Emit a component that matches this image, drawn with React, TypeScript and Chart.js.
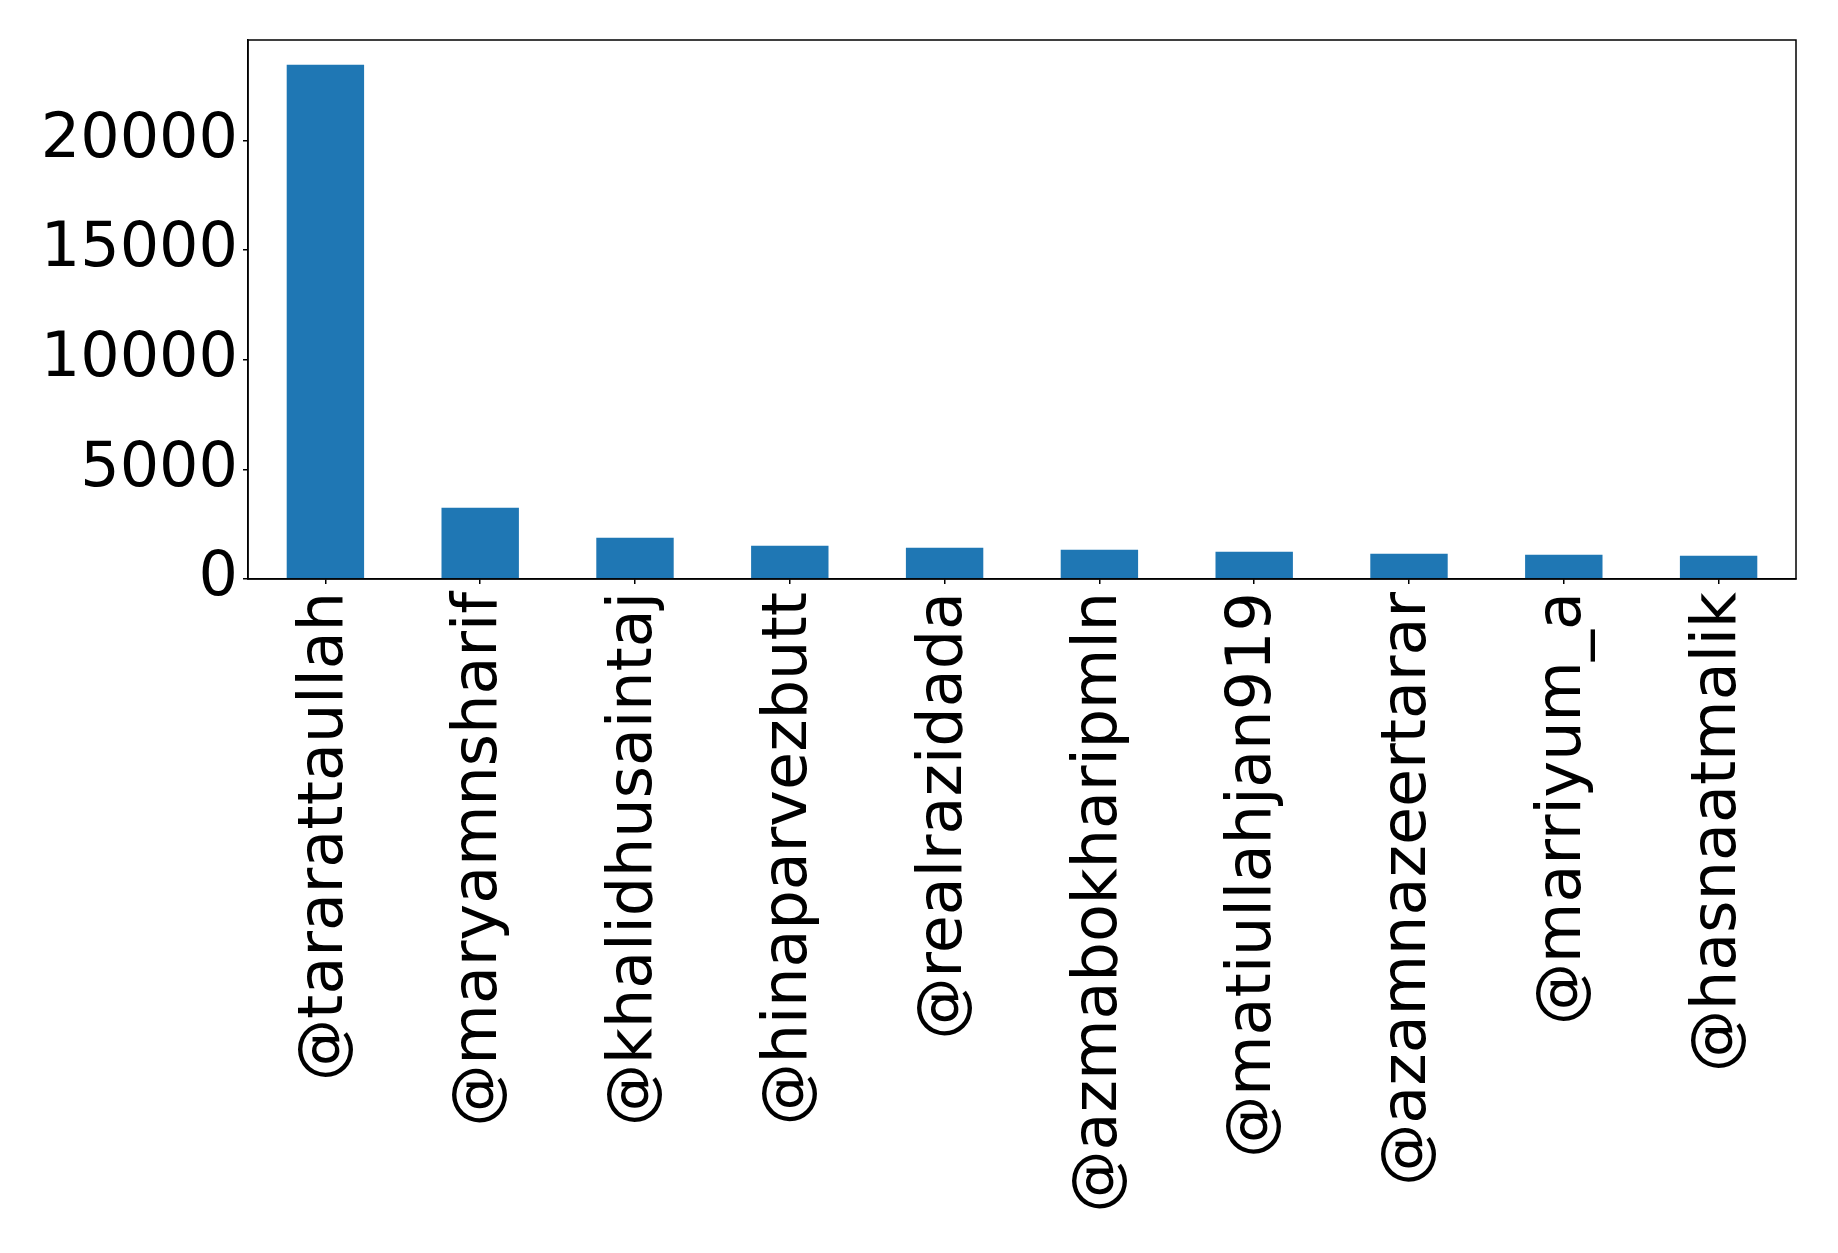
import React, { useEffect, useRef } from "react";
import { Chart, registerables } from "chart.js";

Chart.register(...registerables);

const categories = [
  "@tararattaullah",
  "@maryamnsharif",
  "@khalidhusaintaj",
  "@hinaparvezbutt",
  "@realrazidada",
  "@azmabokharipmln",
  "@matiullahjan919",
  "@azamnazeertarar",
  "@marriyum_a",
  "@hasnaatmalik",
];
const counts = [23460, 3245, 1880, 1515, 1425, 1335, 1245, 1155, 1105, 1060];
const yTicks = [0, 5000, 10000, 15000, 20000];

const W = 1838;
const H = 1253;
const AREA = { left: 248, right: 1796, top: 40, bottom: 579 };
const FONT = { family: "'DejaVu Sans'", size: 62 };

const boxPlugin = {
  id: "box",
  afterDraw(chart: any) {
    const { ctx, chartArea } = chart;
    ctx.save();
    ctx.strokeStyle = "#000";
    ctx.lineWidth = 1.5;
    ctx.strokeRect(chartArea.left, chartArea.top, chartArea.right - chartArea.left, chartArea.bottom - chartArea.top);
    ctx.restore();
  },
};

export default function App() {
  const ref = useRef<HTMLCanvasElement>(null);
  useEffect(() => {
    if (!ref.current) return;
    const chart = new Chart(ref.current, {
      type: "bar",
      data: {
        labels: categories,
        datasets: [
          {
            data: counts,
            backgroundColor: "#1f77b4",
            categoryPercentage: 1,
            barPercentage: 0.5,
          },
        ],
      },
      options: {
        animation: false,
        responsive: false,
        maintainAspectRatio: false,
        layout: { padding: { top: AREA.top, right: W - AREA.right, left: 0, bottom: 0 } },
        plugins: { legend: { display: false }, tooltip: { enabled: false } },
        scales: {
          x: {
            offset: true,
            grid: { display: true, offset: false, drawOnChartArea: false, drawTicks: true, tickLength: 5, color: "#000", lineWidth: 1.5 },
            border: { display: true, color: "#000", width: 1.5 },
            ticks: {
              color: "#000",
              font: FONT,
              maxRotation: 90,
              minRotation: 90,
              autoSkip: false,
              padding: 8,
            },
            afterFit(scale: any) {
              scale.height = H - AREA.bottom;
              scale.paddingLeft = 0;
              scale.paddingRight = 0;
            },
          },
          y: {
            min: 0,
            max: 24590,
            afterBuildTicks(scale: any) {
              scale.ticks = yTicks.map((v) => ({ value: v }));
            },
            grid: { display: true, drawOnChartArea: false, drawTicks: true, tickLength: 5, color: "#000", lineWidth: 1.5 },
            border: { display: true, color: "#000", width: 1.5 },
            ticks: {
              color: "#000",
              font: FONT,
              padding: 5,
              callback: (v: any) => String(v),
            },
            afterFit(scale: any) {
              scale.width = AREA.left;
              scale.paddingTop = 0;
              scale.paddingBottom = 0;
            },
          },
        },
      },
      plugins: [boxPlugin],
    });
    return () => chart.destroy();
  }, []);
  return (
    <div style={{ position: "absolute", left: 0, top: 0, width: W, height: H, background: "#fff" }}>
      <canvas ref={ref} width={W} height={H} style={{ display: "block", width: W, height: H }} />
    </div>
  );
}
